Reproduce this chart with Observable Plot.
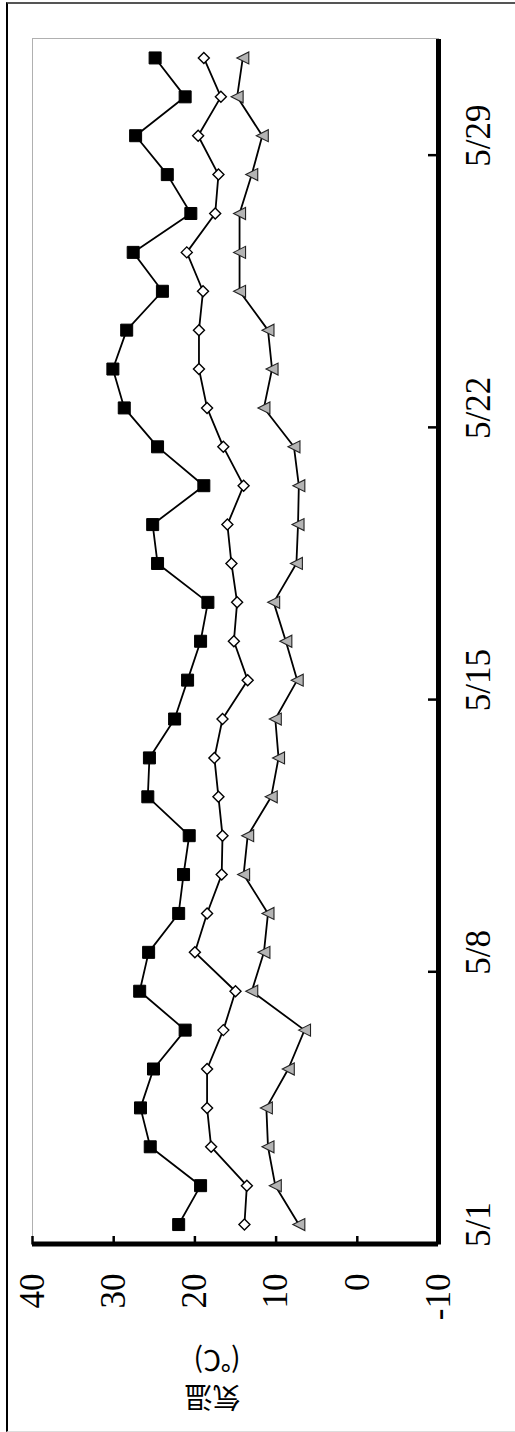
<!DOCTYPE html>
<html><head><meta charset="utf-8">
<script src="https://cdn.jsdelivr.net/npm/d3@7"></script>
<script src="https://cdn.jsdelivr.net/npm/@observablehq/plot@0.6"></script>
<style>
html,body{margin:0;padding:0;background:#fff;overflow:hidden}
#page{position:absolute;left:0;top:0;width:515px;height:1432px;overflow:hidden;background:#fff}
#rot{position:absolute;left:0;top:0;width:1432px;height:515px;transform-origin:0 0;transform:translate(0px,1432px) rotate(-90deg)}
#chart{position:absolute;left:0;top:0;width:1432px;height:515px}
#border{position:absolute;left:0;top:6px;width:1430px;height:509px;box-sizing:border-box;border-top:2px solid #000;border-right:2px solid #555;border-left:1px solid #ddd}
</style></head><body>
<div id="page"><div id="rot"><div id="chart"></div><div id="border"></div></div></div>
<script>
const dates = ["5/1","5/2","5/3","5/4","5/5","5/6","5/7","5/8","5/9","5/10","5/11","5/12","5/13","5/14","5/15","5/16","5/17","5/18","5/19","5/20","5/21","5/22","5/23","5/24","5/25","5/26","5/27","5/28","5/29","5/30","5/31"];
const maxTemp  = [22.0,19.3,25.5,26.7,25.1,21.2,26.8,25.7,22.0,21.4,20.7,25.8,25.6,22.5,20.9,19.3,18.4,24.6,25.2,18.9,24.6,28.7,30.1,28.4,24.0,27.6,20.5,23.4,27.3,21.2,24.9];
const meanTemp = [13.9,13.6,18.0,18.5,18.5,16.5,15.0,20.0,18.5,16.7,16.6,17.1,17.6,16.6,13.5,15.2,14.8,15.5,16.0,14.0,16.5,18.5,19.5,19.5,19.0,21.0,17.5,17.1,19.6,16.8,18.9];
const minTemp  = [7.2,10.1,11.0,11.2,8.5,6.5,13.0,11.5,11.0,14.0,13.5,10.6,9.7,10.1,7.4,8.8,10.3,7.5,7.3,7.2,7.8,11.5,10.5,11.0,14.5,14.5,14.5,13.0,11.7,14.8,14.1];
const tempTicks = [-10,0,10,20,30,40];
const dateLabels = ["5/1","5/8","5/15","5/22","5/29"];
const yTitle = "気温\n(℃)";

const rows = dates.map((d,i)=>({day:i+1, label:d, max:maxTemp[i], mean:meanTemp[i], min:minTemp[i]}));
const labelDays = dateLabels.map(l => dates.indexOf(l) + 1);
const boundaries = labelDays.slice(1).map(d => d - 0.5);

const symSquare = {draw(ctx, size){const r=Math.sqrt(size/Math.PI); ctx.rect(-r,-r,2*r,2*r);}};
const symDiamond = {draw(ctx, size){const r=Math.sqrt(size/Math.PI); ctx.moveTo(0,-r); ctx.lineTo(r,0); ctx.lineTo(0,r); ctx.lineTo(-r,0); ctx.closePath();}};
const symTriangle = {draw(ctx, size){const r=Math.sqrt(size/Math.PI); ctx.moveTo(0,-r); ctx.lineTo(r,r); ctx.lineTo(-r,r); ctx.closePath();}};

const serif = "Liberation Serif";
const chart = Plot.plot({
  width: 1432, height: 515,
  marginLeft: 187.5, marginRight: 39, marginTop: 32, marginBottom: 77,
  style: {background: "none", fontSize: "35px", color: "#000"},
  x: {type: "linear", domain: [0.5, dates.length + 0.5], ticks: labelDays, tickFormat: d => dates[d-1], tickSize: 0, tickPadding: 27, label: null},
  y: {domain: [-10, 40], ticks: tempTicks, tickFormat: d => String(d), tickSize: 0, tickPadding: 29.5, label: null},
  marks: [
    Plot.frame({stroke: "#b0b0b0", strokeWidth: 1}),
    Plot.ruleX(boundaries, {x: d => d, insetTop: 396, stroke: "#000", strokeWidth: 2.5}),
    Plot.ruleY(tempTicks.slice(1), {y: d => d, insetRight: 1197, stroke: "#000", strokeWidth: 2.5}),
    Plot.ruleY([-10], {y: d => d, stroke: "#000", strokeWidth: 5}),
    Plot.ruleX([0.5], {x: d => d, stroke: "#000", strokeWidth: 5}),
    Plot.line(rows, {x: "day", y: "max", stroke: "#000", strokeWidth: 1.8}),
    Plot.line(rows, {x: "day", y: "mean", stroke: "#000", strokeWidth: 1.8}),
    Plot.line(rows, {x: "day", y: "min", stroke: "#000", strokeWidth: 1.8}),
    Plot.dot(rows, {x: "day", y: "max", symbol: symSquare, r: 6, fill: "#000", stroke: "#000", strokeWidth: 1}),
    Plot.dot(rows, {x: "day", y: "mean", symbol: symDiamond, r: 5.5, fill: "#fff", stroke: "#000", strokeWidth: 1.4}),
    Plot.dot(rows, {x: "day", y: "min", symbol: symTriangle, r: 6, fill: "#b4b4b4", stroke: "#222", strokeWidth: 1.1}),
    Plot.text([yTitle], {text: d => d, frameAnchor: "left", rotate: -90, dx: -136.5, dy: 5, fontSize: 28, lineHeight: 1.32, fill: "#000"})
  ]
});
chart.querySelectorAll("text").forEach(t => {
  const cjk = /[気温℃]/.test(t.textContent);
  t.style.setProperty("font-family", cjk ? "'Noto Sans CJK JP', sans-serif" : "'Liberation Serif', serif", "important");
  t.querySelectorAll("tspan").forEach(s => s.style.setProperty("font-family", cjk ? "'Noto Sans CJK JP', sans-serif" : "'Liberation Serif', serif", "important"));
});
document.getElementById("chart").appendChild(chart);
</script>
</body></html>
